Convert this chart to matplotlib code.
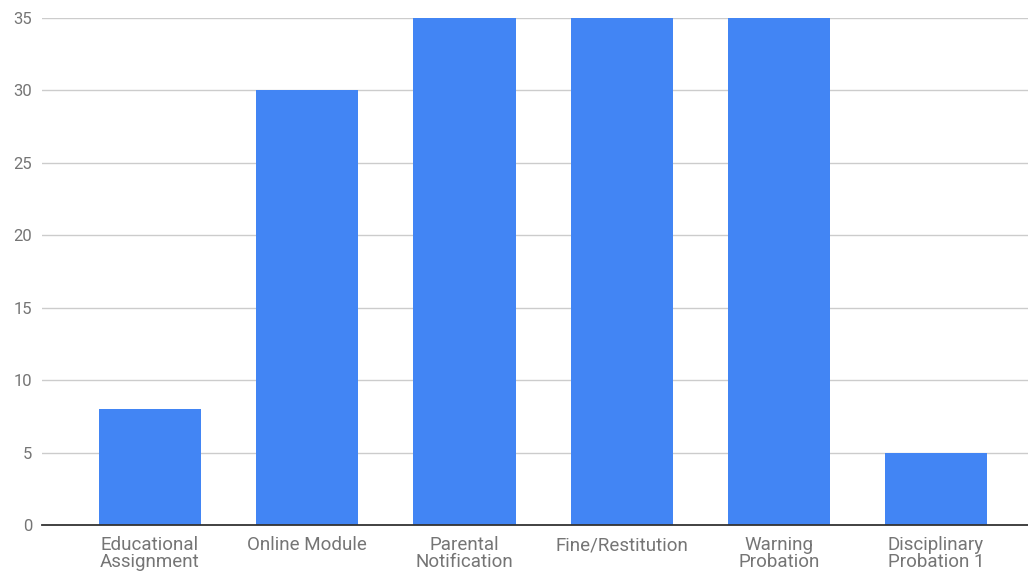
import matplotlib.pyplot as plt
import numpy as np

categories = ['Educational\nAssignment', 'Online Module', 'Parental\nNotification',
              'Fine/Restitution', 'Warning\nProbation', 'Disciplinary\nProbation 1']
values = [8, 30, 35, 35, 35, 5]
yticks = [0, 5, 10, 15, 20, 25, 30, 35]

plt.rcParams['font.family'] = ['Roboto', 'DejaVu Sans']
text_color = '#757575'

fig = plt.figure(figsize=(10.28, 5.71), dpi=100)
ax = fig.add_axes([0.0409, 0.0806, 0.9591, 0.8879])

x = np.arange(len(categories))
ax.bar(x, values, width=0.65, color='#4285F4', zorder=3)

ax.set_ylim(0, 35)
ax.set_xlim(-0.687, 5.585)
ax.set_yticks(yticks)
ax.set_xticks(x)
ax.set_xticklabels(categories, color=text_color, fontsize=13.5, linespacing=0.95)
ax.tick_params(axis='y', length=0, pad=7, labelsize=12, labelcolor=text_color)
ax.tick_params(axis='x', length=0, pad=8)
ax.grid(axis='y', color='#cccccc', linewidth=1, zorder=0)
ax.yaxis.get_gridlines()[0].set_visible(False)

for s in ['top', 'right', 'left']:
    ax.spines[s].set_visible(False)
ax.spines['bottom'].set_color('#333333')
ax.spines['bottom'].set_linewidth(1.3)
ax.spines['bottom'].set_zorder(4)

fig.savefig('out.png', dpi=100)
